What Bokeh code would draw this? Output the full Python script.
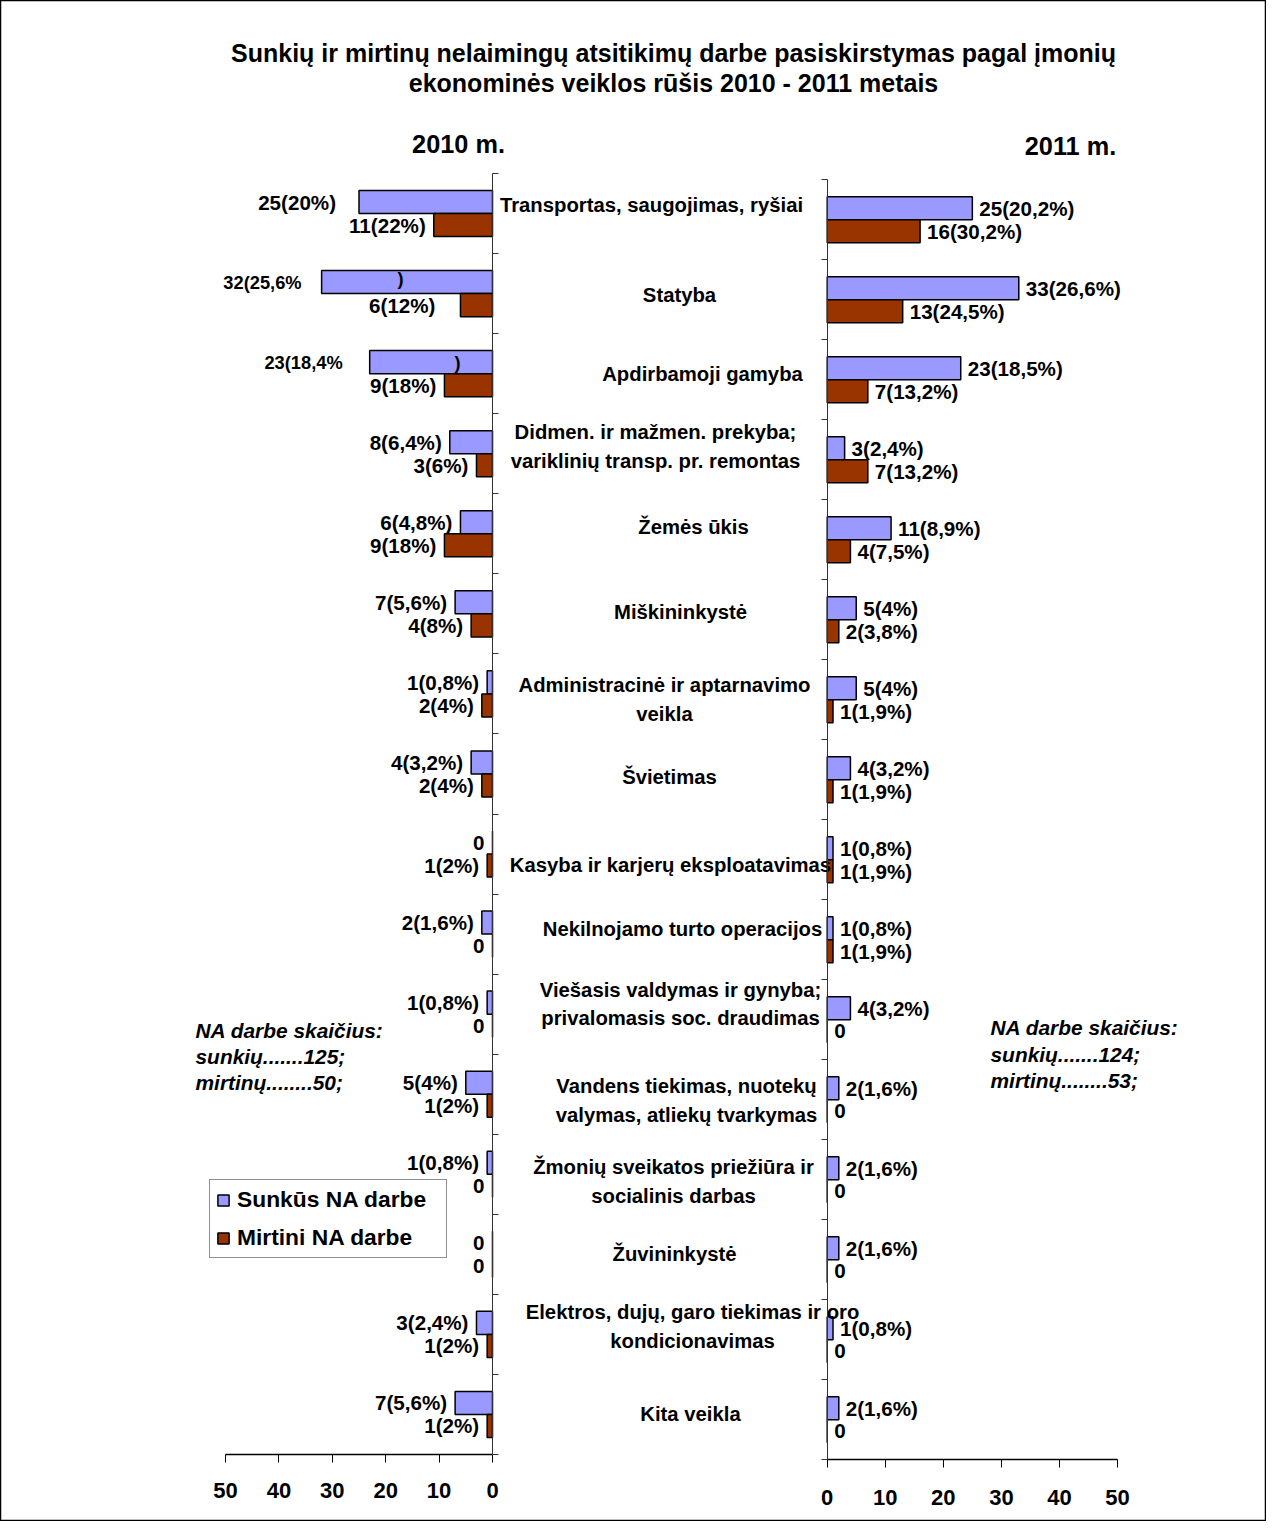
from bokeh.plotting import figure
from bokeh.models import Range1d, LinearAxis, FixedTicker, Label, Legend, LegendItem
from bokeh.core.properties import value
from bokeh.embed import file_html
from bokeh.resources import INLINE

# ---------------- data ----------------
categories = [
    "Transportas, saugojimas, ryšiai",
    "Statyba",
    "Apdirbamoji gamyba",
    "Didmen. ir mažmen. prekyba;\nvariklinių transp. pr. remontas",
    "Žemės ūkis",
    "Miškininkystė",
    "Administracinė ir aptarnavimo\nveikla",
    "Švietimas",
    "Kasyba ir karjerų eksploatavimas",
    "Nekilnojamo turto operacijos",
    "Viešasis valdymas ir gynyba;\nprivalomasis soc. draudimas",
    "Vandens tiekimas, nuotekų\nvalymas, atliekų tvarkymas",
    "Žmonių sveikatos priežiūra ir\nsocialinis darbas",
    "Žuvininkystė",
    "Elektros, dujų, garo tiekimas ir oro\nkondicionavimas",
    "Kita veikla",
]
sunkus_2010 = [25, 32, 23, 8, 6, 7, 1, 4, 0, 2, 1, 5, 1, 0, 3, 7]
mirtini_2010 = [11, 6, 9, 3, 9, 4, 2, 2, 1, 0, 0, 1, 0, 0, 1, 1]
sunkus_2010_labels = ["25(20%)", "32(25,6%", "23(18,4%", "8(6,4%)", "6(4,8%)", "7(5,6%)", "1(0,8%)", "4(3,2%)",
                      "0", "2(1,6%)", "1(0,8%)", "5(4%)", "1(0,8%)", "0", "3(2,4%)", "7(5,6%)"]
mirtini_2010_labels = ["11(22%)", "6(12%)", "9(18%)", "3(6%)", "9(18%)", "4(8%)", "2(4%)", "2(4%)",
                       "1(2%)", "0", "0", "1(2%)", "0", "0", "1(2%)", "1(2%)"]
sunkus_2011 = [25, 33, 23, 3, 11, 5, 5, 4, 1, 1, 4, 2, 2, 2, 1, 2]
mirtini_2011 = [16, 13, 7, 7, 4, 2, 1, 1, 1, 1, 0, 0, 0, 0, 0, 0]
sunkus_2011_labels = ["25(20,2%)", "33(26,6%)", "23(18,5%)", "3(2,4%)", "11(8,9%)", "5(4%)", "5(4%)", "4(3,2%)",
                      "1(0,8%)", "1(0,8%)", "4(3,2%)", "2(1,6%)", "2(1,6%)", "2(1,6%)", "1(0,8%)", "2(1,6%)"]
mirtini_2011_labels = ["16(30,2%)", "13(24,5%)", "7(13,2%)", "7(13,2%)", "4(7,5%)", "2(3,8%)", "1(1,9%)", "1(1,9%)",
                       "1(1,9%)", "1(1,9%)", "0", "0", "0", "0", "0", "0"]
x_ticks = [0, 10, 20, 30, 40, 50]
title_lines = ["Sunkių ir mirtinų nelaimingų atsitikimų darbe pasiskirstymas pagal įmonių",
               "ekonominės veiklos rūšis 2010 - 2011 metais"]
year_titles = ["2010 m.", "2011 m."]
notes_2010 = ["NA darbe skaičius:", "sunkių.......125;", "mirtinų........50;"]
notes_2011 = ["NA darbe skaičius:", "sunkių.......124;", "mirtinų........53;"]
legend_labels = ["Sunkūs NA darbe", "Mirtini NA darbe"]

# ---------------- layout / style ----------------
W, H = 1266, 1521
OFF = 8
FONT = value("Liberation Sans")
BLUE, RED = "#9999FF", "#993300"

def lin_range(va, pa, vb, pb, size):
    unit = (pb - pa) / (vb - va)
    return Range1d(start=va - pa / unit, end=va + (size - pa) / unit)

# pixel anchors (page px)
L0, L50 = 500, 233
R0, R50 = 834.7, 1125
LTOP, LBOT = 181, 1462
RTOP, RBOT = 187.3, 1467.3
n = len(categories)

x_left = lin_range(0, L0 - OFF, 50, L50 - OFF, W)
x_right = lin_range(0, R0 - OFF, 50, R50 - OFF, W)
x_px = Range1d(0, W)
y_left = lin_range(0, H - (LTOP - OFF), n, H - (LBOT - OFF), H)
y_right = lin_range(0, H - (RTOP - OFF), n, H - (RBOT - OFF), H)
band_px_left = (LBOT - LTOP) / n

p = figure(width=W, height=H, x_range=x_left, y_range=y_left,
           x_axis_type=None, y_axis_type=None, toolbar_location=None,
           output_backend="svg", min_border=0, background_fill_color="white",
           border_fill_color="white", outline_line_color="black", outline_line_width=1.5)
p.extra_x_ranges = {"right": x_right, "px": x_px}
p.extra_y_ranges = {"right": y_right}

BAR_H = 0.2875
OFS = 0.144
yb = [i + 0.5 - OFS for i in range(n)]
yr = [i + 0.5 + OFS for i in range(n)]

VAL_FS = "20.6px"
CAT_FS = "20.3px"

# bars
rb_l = p.hbar(y=yb, left=0, right=sunkus_2010, height=BAR_H, fill_color=BLUE, line_color="black", line_width=1.5)
rr_l = p.hbar(y=yr, left=0, right=mirtini_2010, height=BAR_H, fill_color=RED, line_color="black", line_width=1.5)
p.hbar(y=yb, left=0, right=sunkus_2011, height=BAR_H, fill_color=BLUE, line_color="black", line_width=1.5,
       x_range_name="right", y_range_name="right")
p.hbar(y=yr, left=0, right=mirtini_2011, height=BAR_H, fill_color=RED, line_color="black", line_width=1.5,
       x_range_name="right", y_range_name="right")

# value labels 2010 (left of bars); the two truncated labels are smaller in the original
blue_nudge_2010 = [-23, -20, -27] + [-8] * (n - 3)
small = [1, 2]
big = [i for i in range(n) if i not in small]
for idx, fs in [(big, VAL_FS), (small, "18.3px")]:
    p.text(x=[sunkus_2010[i] for i in idx], y=[yb[i] for i in idx], text=[sunkus_2010_labels[i] for i in idx],
           x_offset=[blue_nudge_2010[i] for i in idx],
           text_align="right", text_baseline="middle", text_font=FONT, text_font_style="bold",
           text_font_size=fs, text_color="black")
red_nudge_2010 = [-8, -25] + [-8] * (n - 2)
p.text(x=mirtini_2010, y=yr, text=mirtini_2010_labels, x_offset=red_nudge_2010,
       text_align="right", text_baseline="middle", text_font=FONT, text_font_style="bold",
       text_font_size=VAL_FS, text_color="black")
# stray closing parentheses (as in the original)
paren_x_page = [408, 465]
paren_y_page = [286, 370]
p.text(x=[v - OFF for v in paren_x_page], y=[(v - LTOP) / band_px_left for v in paren_y_page], text=[")", ")"],
       x_range_name="px", text_align="center", text_baseline="middle", text_font=FONT,
       text_font_style="bold", text_font_size="18.3px", text_color="black")

# value labels 2011 (right of bars)
for vals, ys, labs in [(sunkus_2011, yb, sunkus_2011_labels), (mirtini_2011, yr, mirtini_2011_labels)]:
    p.text(x=vals, y=ys, text=labs, x_offset=7, x_range_name="right", y_range_name="right",
           text_align="left", text_baseline="middle", text_font=FONT, text_font_style="bold",
           text_font_size=VAL_FS, text_color="black")

# category labels
cat_cx_page = [659, 687, 710, 663, 701, 688, 672, 677, 678, 690, 688, 694, 681, 682, 700, 698]
cat_dy_px = [-9, 1, 0, -7.5, -7, -2, 5.5, 3, 10.5, -5.5, -10, 6, 7, 0, -8, 0]
p.text(x=[c - OFF for c in cat_cx_page], y=[i + 0.5 + d / band_px_left for i, d in enumerate(cat_dy_px)],
       text=categories, x_range_name="px", text_align="center", text_baseline="middle",
       text_font=FONT, text_font_style="bold", text_font_size=CAT_FS, text_line_height=1.3,
       text_color="black")

# axes: category axes with unlabeled tick marks at band boundaries
band_edges = list(range(n + 1))
ax_ly = LinearAxis(fixed_location=0, bounds=(0, n), ticker=FixedTicker(ticks=[], minor_ticks=band_edges),
                   major_tick_in=0, major_tick_out=0, minor_tick_out=6, minor_tick_in=0,
                   axis_line_color="#333333", minor_tick_line_color="#333333")
p.add_layout(ax_ly, "right")
ax_ry = LinearAxis(fixed_location=0, bounds=(0, n), ticker=FixedTicker(ticks=[], minor_ticks=band_edges),
                   x_range_name="right", y_range_name="right",
                   major_tick_in=0, major_tick_out=0, minor_tick_out=6, minor_tick_in=0,
                   axis_line_color="#333333", minor_tick_line_color="#333333")
p.add_layout(ax_ry, "left")
for xr, yrn, stand in [("default", "default", 20), ("right", "right", 22)]:
    ax = LinearAxis(fixed_location=n, bounds=(0, 50), ticker=FixedTicker(ticks=x_ticks),
                    x_range_name=xr, y_range_name=yrn,
                    major_tick_in=0, major_tick_out=8, minor_tick_out=0, minor_tick_in=0,
                    major_label_standoff=stand, major_label_text_font_size="22px",
                    major_label_text_font_style="bold", major_label_text_font="Liberation Sans",
                    major_label_text_color="black",
                    axis_line_color="black", axis_line_width=1.5, major_tick_line_color="black")
    p.add_layout(ax, "below")

# titles and notes
def scr_label(text, xpage, ypage, size, align="center", style="bold"):
    p.add_layout(Label(x=xpage - OFF, y=H - (ypage - OFF), x_units="screen", y_units="screen", text=text,
                       text_align=align, text_baseline="middle", text_font="Liberation Sans",
                       text_font_style=style, text_font_size=size, text_color="black"))

scr_label(title_lines[0], 681, 60, "25px")
scr_label(title_lines[1], 681, 90, "25px")
scr_label(year_titles[0], 466, 151, "25.3px")
scr_label(year_titles[1], 1078, 153, "25.3px")
for k, t in enumerate(notes_2010):
    scr_label(t, 203, 1038 + 26 * k, "20.9px", align="left", style="bold italic")
for k, t in enumerate(notes_2011):
    scr_label(t, 998, 1035 + 26.5 * k, "20.9px", align="left", style="bold italic")

legend = Legend(items=[LegendItem(label=legend_labels[0], renderers=[rb_l]),
                       LegendItem(label=legend_labels[1], renderers=[rr_l])],
                location=(217 - OFF, H - (1266 - OFF)), orientation="vertical",
                glyph_width=14, glyph_height=14, label_standoff=7, padding=6, spacing=11, margin=0,
                label_width=203, label_height=20,
                label_text_font="Liberation Sans", label_text_font_style="bold", label_text_font_size="22.8px",
                label_text_color="black", border_line_color="#222222", border_line_width=1,
                background_fill_alpha=1)
p.add_layout(legend, "center")

open("out.html", "w").write(file_html(p, INLINE))
